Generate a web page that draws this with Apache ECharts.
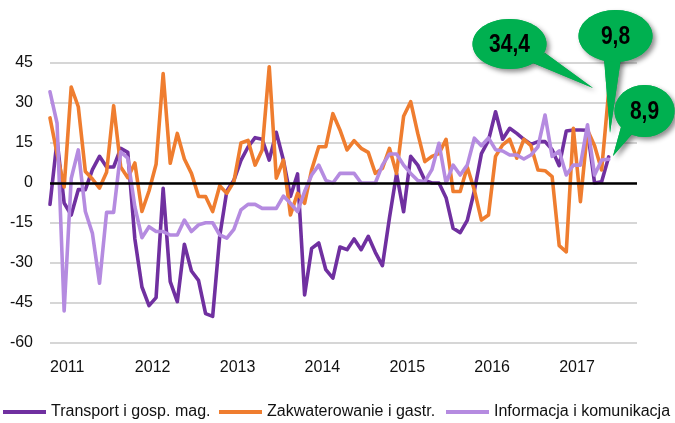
<!DOCTYPE html>
<html><head><meta charset="utf-8">
<script src="https://cdn.jsdelivr.net/npm/echarts@6/dist/echarts.min.js"></script>
<style>html,body{margin:0;padding:0;background:#fff}#c{width:675px;height:423px}</style>
</head><body><div id="c"></div>
<script>
// Monthly categories Jan 2011 - Dec 2017 (axis), data through Aug 2017
const years = ['2011','2012','2013','2014','2015','2016','2017'];
const months = [];
years.forEach(y => { for (let m = 1; m <= 12; m++) months.push(y + '-' + (m < 10 ? '0' + m : m)); });

const seriesNames = ['Transport i gosp. mag.', 'Zakwaterowanie i gastr.', 'Informacja i komunikacja'];

const transport = [
 -8, 16, -7.5, -12, -2.5, -2.5, 5, 10, 6, 6, 13, 11.5,
 -21, -39, -46, -43, -2, -37, -44.5, -23, -33, -36.5, -49, -50,
 -20, -3, 1, 8.5, 13.5, 17, 16.4, 8.6, 19, 8.6, -5, 3.4,
 -42, -24.5, -22.5, -32.5, -35.7, -24, -25, -21, -25, -20, -26, -31,
 -13, 3.5, -10.8, 10, 6.7, 1, 0, 0, -5.5, -17, -18.6, -14,
 -3, 11, 16, 26.7, 16.4, 20.5, 18.6, 16.4, 14.5, 15.5, 15.5, 12.5,
 6.5, 19.5, 19.9, 19.9, 19.8, 0, 0.5, 9.8
];
const zakwaterowanie = [
 24.4, 11, -1.5, 36, 28.6, 4.3, 1.5, -1.9, 4, 29, 6, 2,
 7.5, -10.7, -3, 7, 41, 7.4, 18.6, 9, 3.6, -5, -5.1, -10.7,
 -1, -3.9, 0.5, 15, 16, 6.7, 12.4, 43.6, 1.8, 8.6, -12, -3.9,
 -7.6, 5, 13.6, 13.6, 26, 19.9, 12.4, 15.9, 13, 11.5, 3.6, 5.5,
 13, 3.6, 25, 30.5, 18.6, 8, 10, 11, 16.4, -3.2, -3.2, 6,
 -2.6, -13.9, -12, 10, 14.3, 16.4, 9.3, 16.4, 14, 4.9, 4.6, 2.4,
 -23.5, -25.8, 20.5, -7, 19.9, 14, 4.9, 34.4
];
const informacja = [
 34.2, 22.4, -48, 1.7, 12.4, -10.7, -18.9, -37.6, -11, -11, 11.7, 9.3,
 -9, -20.5, -16.4, -18.2, -18.2, -19.5, -19.5, -13.9, -18.2, -15.7, -14.9, -14.9,
 -19.5, -20.7, -17.4, -10.1, -8, -8, -9.5, -9.5, -9.5, -4.9, -7.6, -10.7,
 -3.2, 3, 6.7, 1, 0, 3.6, 3.6, 3.6, 0, 0, 0, 6.7,
 10.9, 10.9, 6.7, 3.6, 0.9, 0.5, 5, 14.9, 0, 6.7, 3, 6.7,
 16.8, 14, 16.9, 12.5, 12, 10.5, 10.5, 9, 10.5, 13.6, 25.5, 10,
 12, 3, 6.7, 6.7, 21.8, 3, 8.6, 8.9
];
const colors = ['#7030a0', '#ef7d2f', '#b58be0'];

const fmt = v => String(v).replace('.', ',');
const green = '#00b050';
function callout(cx, cy, rx, ry, poly, text) {
  const sh = {shadowBlur: 5, shadowColor: 'rgba(0,0,0,0.45)', shadowOffsetX: 3, shadowOffsetY: 3};
  return [
    {type: 'polygon', z: 100, shape: {points: poly}, style: Object.assign({fill: green}, sh)},
    {type: 'ellipse', z: 100, shape: {cx: cx, cy: cy, rx: rx, ry: ry}, style: Object.assign({fill: green}, sh)},
    {type: 'polygon', z: 101, shape: {points: poly}, style: {fill: green}},
    {type: 'ellipse', z: 101, shape: {cx: cx, cy: cy, rx: rx, ry: ry}, style: {fill: green}},
    {type: 'text', z: 102, x: cx, y: cy + 1, scaleX: 0.84, style: {text: text, fill: '#000', fontSize: 25, fontWeight: 'bold',
      fontFamily: '"Liberation Sans", Arial, sans-serif',
      align: 'center', verticalAlign: 'middle', textAlign: 'center', textVerticalAlign: 'middle'}}
  ];
}
const last = a => a[a.length - 1];
const graphics = [].concat(
  callout(509.5, 44, 37, 25, [[533, 63], [545, 53], [593, 88]], fmt(last(zakwaterowanie))),
  callout(615.5, 36, 37, 26, [[604, 58], [621, 58], [610, 133]], fmt(last(transport))),
  callout(644.5, 111, 30, 26, [[621, 127], [633, 133], [613, 156]], fmt(last(informacja)))
);

const font = '"Liberation Sans", Arial, sans-serif';
const chart = echarts.init(document.getElementById('c'), null, {renderer: 'canvas'});
const mk = (name, data, color, extra) => Object.assign({
  name: name, type: 'line', data: data, color: color, symbol: 'none', smooth: false,
  lineStyle: {width: 3.6, color: color, join: 'round', cap: 'round'}, animation: false
}, extra || {});

const legendLefts = [3, 219, 446];
const legends = seriesNames.map((n, i) => ({
  left: legendLefts[i], top: 404, padding: 0, icon: 'rect', itemWidth: 43, itemHeight: 4,
  textStyle: {fontSize: 16, color: '#111', fontFamily: font},
  data: [n]
}));

chart.setOption({
  animation: false,
  grid: {left: 50, right: 38, top: 63, bottom: 80},
  xAxis: {
    type: 'category', data: months, boundaryGap: false,
    axisLine: {show: false}, axisTick: {show: false}, splitLine: {show: false},
    axisLabel: {
      interval: function (i, v) { return v.slice(5) === '01'; },
      formatter: function (v) { return v.slice(0, 4); },
      align: 'left', margin: 17, fontSize: 16, color: '#111', fontFamily: font
    }
  },
  yAxis: {
    type: 'value', min: -60, max: 45, interval: 15,
    axisLine: {show: false}, axisTick: {show: false},
    axisLabel: {fontSize: 16, color: '#111', fontFamily: font, margin: 17},
    splitLine: {lineStyle: {color: '#c8c8c8', width: 1.5}}
  },
  legend: legends,
  series: [
    mk(seriesNames[0], transport, colors[0], {
      markLine: {silent: true, symbol: 'none', label: {show: false}, animation: false,
        lineStyle: {color: '#000', width: 2.5, type: 'solid'}, data: [{yAxis: 0}]}
    }),
    mk(seriesNames[1], zakwaterowanie, colors[1]),
    mk(seriesNames[2], informacja, colors[2])
  ],
  graphic: graphics
});
</script>
</body></html>
